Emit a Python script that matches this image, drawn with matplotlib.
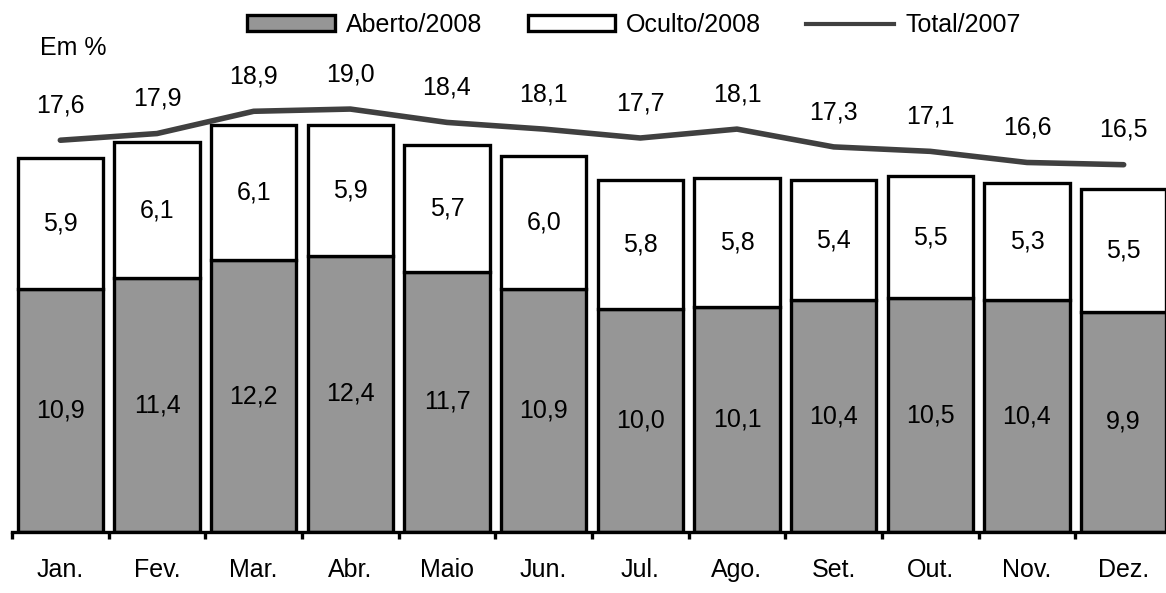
import matplotlib
matplotlib.use('Agg')
import matplotlib.pyplot as plt
from matplotlib.patches import Patch
from matplotlib.lines import Line2D
import numpy as np

months = ['Jan.', 'Fev.', 'Mar.', 'Abr.', 'Maio', 'Jun.', 'Jul.', 'Ago.', 'Set.', 'Out.', 'Nov.', 'Dez.']
aberto_2008 = [10.9, 11.4, 12.2, 12.4, 11.7, 10.9, 10.0, 10.1, 10.4, 10.5, 10.4, 9.9]
oculto_2008 = [5.9, 6.1, 6.1, 5.9, 5.7, 6.0, 5.8, 5.8, 5.4, 5.5, 5.3, 5.5]
total_2007 = [17.6, 17.9, 18.9, 19.0, 18.4, 18.1, 17.7, 18.1, 17.3, 17.1, 16.6, 16.5]

plt.rcParams['font.family'] = ['Liberation Sans', 'DejaVu Sans']
fs = 18

fig = plt.figure(figsize=(11.66, 5.93), dpi=100)
ax = fig.add_axes([12/1166, 61/593, 1160/1166, 532/593])

x = np.arange(len(months))
fmt = lambda v: f'{v:.1f}'.replace('.', ',')

ax.bar(x, aberto_2008, width=0.88, color='#969696', edgecolor='black', linewidth=2.4, zorder=2)
ax.bar(x, oculto_2008, width=0.88, bottom=aberto_2008, color='white', edgecolor='black', linewidth=2.4, zorder=2)
ax.plot(x, total_2007, color='#404040', linewidth=4, solid_capstyle='round', zorder=3)

for i in range(len(months)):
    a, o = aberto_2008[i], oculto_2008[i]
    ax.text(x[i], a / 2, fmt(a), ha='center', va='center', fontsize=fs, zorder=4)
    ax.text(x[i], a + o / 2, fmt(o), ha='center', va='center', fontsize=fs, zorder=4)
    ax.annotate(fmt(total_2007[i]), (x[i], total_2007[i]), xytext=(0, 25), textcoords='offset points',
                ha='center', va='center', fontsize=fs)

ax.set_xlim(-0.5, 11.5)
ax.set_ylim(0, 532 / 22.26)
for s in ['top', 'right', 'left']:
    ax.spines[s].set_visible(False)
ax.spines['bottom'].set_linewidth(2.4)
ax.set_yticks([])
ax.set_xticks(x)
ax.set_xticklabels(months, fontsize=fs)
ax.set_xticks(np.arange(-0.5, 12, 1), minor=True)
ax.tick_params(axis='x', which='major', length=0, pad=19)
ax.tick_params(axis='x', which='minor', length=5, width=2.4, direction='out')

fig.text(40/1166, 1 - 48/593, 'Em %', fontsize=fs, ha='left', va='center')

handles = [Patch(facecolor='#969696', edgecolor='black', linewidth=2.4),
           Patch(facecolor='white', edgecolor='black', linewidth=2.4),
           Line2D([], [], color='#404040', linewidth=3)]
fig.legend(handles, ['Aberto/2008', 'Oculto/2008', 'Total/2007'], ncol=3, frameon=False,
           loc='center', bbox_to_anchor=(634/1166, 1 - 25/593), fontsize=fs,
           handlelength=3.5, handleheight=0.6, handletextpad=0.45, columnspacing=1.8)

fig.savefig('out.png', dpi=100)
